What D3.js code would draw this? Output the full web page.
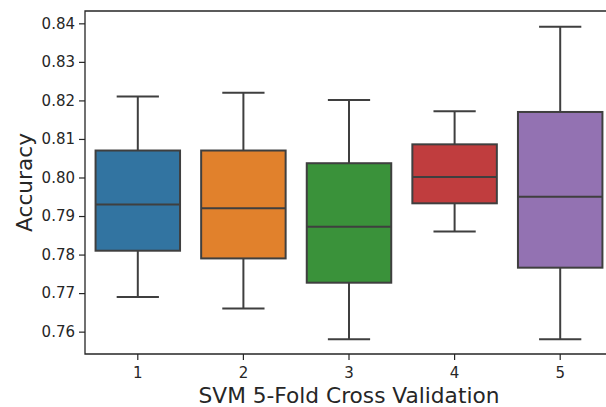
<!DOCTYPE html>
<html>
<head>
<meta charset="utf-8">
<script src="https://cdn.jsdelivr.net/npm/d3@7"></script>
<style>
  body { margin: 0; background: #fff; }
  svg { display: block; overflow: hidden; }
  text { font-family: "DejaVu Sans", sans-serif; fill: #262626; }
</style>
</head>
<body>
<div id="chart"></div>
<script>
    var width = 606;
    var height = 407;

    // box stats, one entry per fold
    var folds = ["1", "2", "3", "4", "5"];
    var whiskerLow = [0.769, 0.766, 0.758, 0.786, 0.758];
    var q1 = [0.781, 0.779, 0.7727, 0.7933, 0.7766];
    var median = [0.793, 0.792, 0.7872, 0.8001, 0.795];
    var q3 = [0.807, 0.807, 0.8037, 0.8086, 0.817];
    var whiskerHigh = [0.821, 0.822, 0.8201, 0.8172, 0.8391];
    var colors = ["#3274a1", "#e1812c", "#3a923a", "#c03d3e", "#9372b2"];
    var yTicks = [0.76, 0.77, 0.78, 0.79, 0.80, 0.81, 0.82, 0.83, 0.84];

    // plot frame; the right edge runs past the picture in the original
    var frameLeft = 85, frameRight = 613, frameTop = 11, frameBottom = 354;

    var x = d3.scaleBand().domain(folds).range([frameLeft, frameRight]).paddingInner(0).paddingOuter(0);
    var y = d3.scaleLinear().domain([0.7542, 0.8432]).range([frameBottom, frameTop]);

    var svg = d3.select("#chart")
                .append("svg")
                .attr("width", width)
                .attr("height", height);

    var line = "#3f3f3f";
    var boxW = x.bandwidth() * 0.8;

    for (var i = 0; i < folds.length; i++) {
        var cx = x(folds[i]) + x.bandwidth() / 2;
        var g = svg.append("g");
        // whiskers
        g.append("line").attr("x1", cx).attr("x2", cx)
         .attr("y1", y(q3[i])).attr("y2", y(whiskerHigh[i]))
         .attr("stroke", line).attr("stroke-width", 2);
        g.append("line").attr("x1", cx).attr("x2", cx)
         .attr("y1", y(q1[i])).attr("y2", y(whiskerLow[i]))
         .attr("stroke", line).attr("stroke-width", 2);
        // caps
        g.append("line").attr("x1", cx - boxW / 4).attr("x2", cx + boxW / 4)
         .attr("y1", y(whiskerHigh[i])).attr("y2", y(whiskerHigh[i]))
         .attr("stroke", line).attr("stroke-width", 2);
        g.append("line").attr("x1", cx - boxW / 4).attr("x2", cx + boxW / 4)
         .attr("y1", y(whiskerLow[i])).attr("y2", y(whiskerLow[i]))
         .attr("stroke", line).attr("stroke-width", 2);
        // box
        g.append("rect")
         .attr("x", cx - boxW / 2).attr("y", y(q3[i]))
         .attr("width", boxW).attr("height", y(q1[i]) - y(q3[i]))
         .attr("fill", colors[i]).attr("stroke", line).attr("stroke-width", 2);
        // median
        g.append("line").attr("x1", cx - boxW / 2).attr("x2", cx + boxW / 2)
         .attr("y1", y(median[i])).attr("y2", y(median[i]))
         .attr("stroke", line).attr("stroke-width", 2);
    }

    // axes
    var yAxis = svg.append("g")
       .attr("transform", "translate(" + frameLeft + ",0)")
       .call(d3.axisLeft(y).tickValues(yTicks).tickFormat(d3.format(".2f")).tickSize(6).tickPadding(4));
    var xAxis = svg.append("g")
       .attr("transform", "translate(0," + frameBottom + ")")
       .call(d3.axisBottom(x).tickSize(6).tickPadding(7));

    [xAxis, yAxis].forEach(function(a) {
        a.select(".domain").remove();
        a.selectAll(".tick line").attr("stroke", "#262626").attr("stroke-width", 1.2);
        a.selectAll(".tick text").style("font-size", "15px").attr("fill", "#262626");
    });

    // frame (left, top, bottom spines)
    svg.append("path")
       .attr("d", "M" + frameRight + "," + frameTop + "H" + frameLeft + "V" + frameBottom + "H" + frameRight)
       .attr("fill", "none").attr("stroke", "#262626").attr("stroke-width", 1.3);

    svg.append("text")
       .attr("x", (frameLeft + frameRight) / 2).attr("y", 403)
       .attr("text-anchor", "middle")
       .style("font-size", "21.7px")
       .text("SVM 5-Fold Cross Validation");

    svg.append("text")
       .attr("transform", "translate(32," + (frameTop + frameBottom) / 2 + ") rotate(-90)")
       .attr("text-anchor", "middle")
       .style("font-size", "21.7px")
       .text("Accuracy");
</script>
</body>
</html>
